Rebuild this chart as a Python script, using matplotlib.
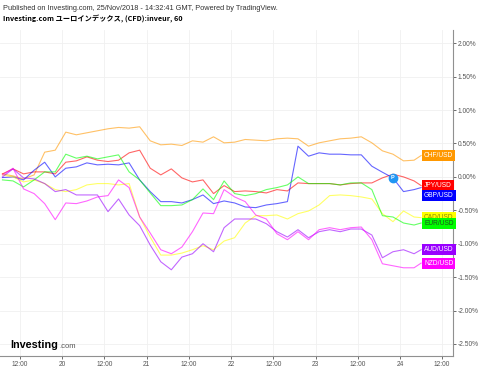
import numpy as np
import matplotlib.pyplot as plt

plt.rcParams["font.family"] = ["Liberation Sans", "DejaVu Sans"]

# hours counted from 19 Nov 00:00, hourly chart sampled every 3 h
hours = list(range(7, 125, 3)) + [126]

chf = [0.045, 0.015, -0.03, 0.03, 0.37, 0.40, 0.67, 0.63, 0.66, 0.69,
       0.72, 0.74, 0.73, 0.75, 0.54, 0.48, 0.49, 0.47, 0.54, 0.52,
       0.60, 0.51, 0.52, 0.56, 0.55, 0.54, 0.57, 0.58, 0.57, 0.46,
       0.51, 0.54, 0.57, 0.58, 0.60, 0.51, 0.39, 0.34, 0.24, 0.25, 0.32]
jpy = [0.045, 0.12, 0.045, 0.075, 0.075, 0.045, 0.22, 0.24, 0.30, 0.25,
       0.23, 0.25, 0.36, 0.40, 0.13, 0.03, 0.12, -0.015, -0.075, -0.045,
       -0.25, -0.13, -0.22, -0.21, -0.22, -0.24, -0.19, -0.21, -0.09, -0.10,
       -0.10, -0.10, -0.12, -0.10, -0.09, -0.09, -0.015, 0.04, 0.0, -0.06, -0.13]
gbp = [-0.01, 0.0, -0.045, 0.10, 0.22, 0.0, 0.13, 0.15, 0.21, 0.18,
       0.19, 0.18, 0.21, -0.045, -0.22, -0.37, -0.37, -0.39, -0.34, -0.27,
       -0.40, -0.36, -0.39, -0.45, -0.46, -0.42, -0.40, -0.37, 0.46, 0.31,
       0.36, 0.34, 0.34, 0.33, 0.33, 0.16, 0.07, -0.015, -0.22, -0.19, -0.16]
eur = [-0.045, -0.06, -0.15, -0.045, 0.075, 0.075, 0.34, 0.28, 0.31, 0.27,
       0.30, 0.33, 0.075, -0.045, -0.24, -0.43, -0.43, -0.42, -0.34, -0.18,
       -0.34, -0.06, -0.25, -0.28, -0.25, -0.19, -0.16, -0.12, 0.0, -0.10,
       -0.10, -0.10, -0.12, -0.09, -0.09, -0.19, -0.58, -0.60, -0.69, -0.72, -0.69]
cad = [0.03, 0.0, -0.075, -0.045, -0.10, -0.19, -0.22, -0.19, -0.12, -0.10,
       -0.10, -0.12, -0.10, -0.60, -0.90, -1.17, -1.17, -1.14, -1.09, -1.03,
       -1.09, -0.96, -0.91, -0.69, -0.58, -0.58, -0.57, -0.63, -0.55, -0.51,
       -0.42, -0.28, -0.27, -0.28, -0.30, -0.33, -0.55, -0.67, -0.51, -0.60, -0.61]
aud = [0.0, 0.12, -0.015, -0.03, -0.10, -0.22, -0.19, -0.27, -0.27, -0.27,
       -0.52, -0.33, -0.57, -0.73, -1.02, -1.27, -1.39, -1.20, -1.15, -1.00,
       -1.12, -0.76, -0.63, -0.63, -0.63, -0.70, -0.82, -0.90, -0.79, -0.91,
       -0.82, -0.79, -0.82, -0.78, -0.78, -0.87, -1.21, -1.12, -1.09, -1.15, -1.09]
nzd = [0.03, 0.13, -0.18, -0.25, -0.40, -0.64, -0.39, -0.40, -0.36, -0.30,
       -0.28, -0.045, -0.16, -0.60, -0.84, -1.09, -1.15, -1.05, -0.82, -0.54,
       -0.55, -0.19, -0.30, -0.37, -0.57, -0.63, -0.85, -0.94, -0.82, -0.94,
       -0.79, -0.76, -0.79, -0.76, -0.75, -0.94, -1.30, -1.33, -1.36, -1.36, -1.29]

names = ["CHF/USD", "JPY/USD", "GBP/USD", "CAD/USD", "EUR/USD", "AUD/USD", "NZD/USD"]
series = [chf, jpy, gbp, cad, eur, aud, nzd]
line_colors = ["#ff9800", "#ff0000", "#0000ff", "#ffff00", "#00ff00", "#9900ff", "#ff00ff"]
label_bg = ["#ff9800", "#ff0000", "#0000ff", "#ffff00", "#00ff00", "#9900ff", "#ff00ff"]
label_fg = ["white", "white", "white", "#8a8a00", "#205020", "white", "white"]
label_nudge = {"GBP/USD": -0.12}

xticks = [12, 24, 36, 48, 60, 72, 84, 96, 108, 120, 132]
xlabels = ["12:00", "20", "12:00", "21", "12:00", "22", "12:00", "23", "12:00", "24", "12:00"]
yticks = [2.0, 1.5, 1.0, 0.5, 0.0, -0.5, -1.0, -1.5, -2.0, -2.5]

fig = plt.figure(figsize=(4.8, 3.69), dpi=100)
ax = fig.add_axes([0.0, 0.034, 0.944, 0.885])

for vals, c in zip(series, line_colors):
    ax.plot(hours, vals, color=c, lw=0.8, alpha=0.6)

# event marker on the GBP line
ax.plot(hours[37], gbp[37], "o", ms=6, color="#2196f3", zorder=5)
ax.text(hours[37], gbp[37], "P", color="white", fontsize=4, fontweight="bold",
        ha="center", va="center", zorder=6)

for n, vals, bg, fg in zip(names, series, label_bg, label_fg):
    ax.text(0.936, vals[-1] + label_nudge.get(n, 0), n, transform=ax.get_yaxis_transform(),
            fontsize=4.8, color=fg, ha="left", va="center", zorder=7,
            bbox=dict(boxstyle="square,pad=0.3", fc=bg, ec="none"))

ax.set_xlim(6.3, 135.1)
ax.set_ylim(-2.687, 2.20)
ax.set_xticks(xticks)
ax.set_xticklabels(xlabels)
ax.set_yticks(yticks)
ax.set_yticklabels([f"{v:.2f}%" for v in yticks])
ax.yaxis.tick_right()
ax.grid(True, color="#f0f0f0", lw=0.6)
ax.set_axisbelow(True)
for s in ["left", "top"]:
    ax.spines[s].set_visible(False)
for s in ["right", "bottom"]:
    ax.spines[s].set_color("#909090")
    ax.spines[s].set_linewidth(0.8)
ax.tick_params(labelsize=4.8, colors="#555555", length=2, pad=1.5, width=0.6)

fig.text(3 / 480, 1 - 8 / 369, "Published on Investing.com, 25/Nov/2018 - 14:32:41 GMT, Powered by TradingView.",
         fontsize=5.3, color="#333333", va="center")
fig.text(3 / 480, 1 - 19 / 369, "Investing.com ユーロインデックス, (CFD):inveur, 60",
         fontsize=5.2, fontweight="bold", va="center", family=["Noto Sans CJK JP", "DejaVu Sans"])

fig.text(10 / 480, 1 - 345 / 369, "Investing", fontsize=7.8, fontweight="bold", va="center")
fig.text(59 / 480, 1 - 346 / 369, ".com", fontsize=5.5, color="#555555", va="center")

fig.savefig("out.png", dpi=100)
